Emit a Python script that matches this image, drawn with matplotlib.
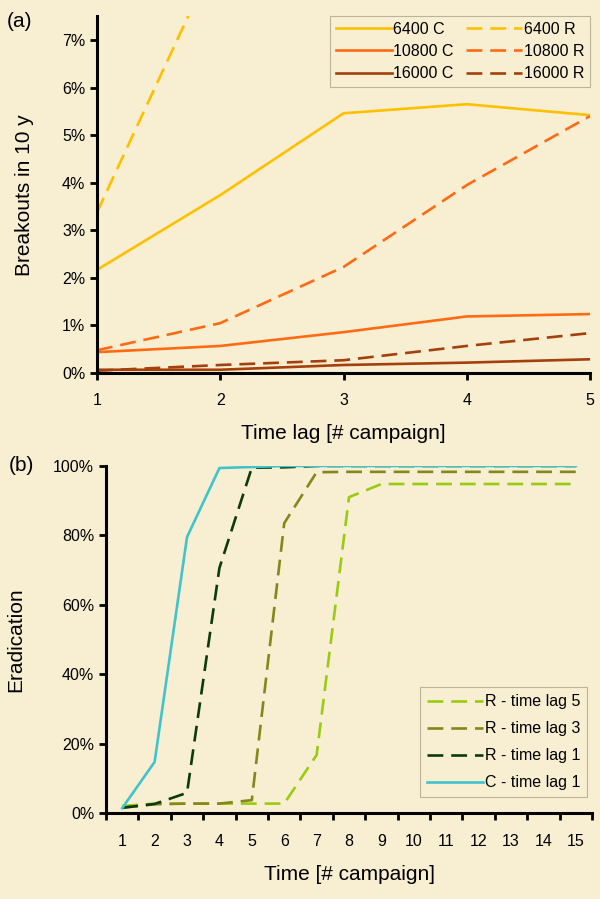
import matplotlib.pyplot as plt
import numpy as np
from matplotlib.ticker import FuncFormatter, FixedLocator

plt.rcParams.update({
    "font.family": ["Liberation Sans", "DejaVu Sans"],
    "font.size": 11.5,
})

bg = '#f8eed2'

# panel (a): breakouts in 10 y vs time lag
lag = [1, 2, 3, 4, 5]
c6400 = [2.17, 3.74, 5.46, 5.65, 5.42]
r6400 = [3.38, 8.95, 11.5, 12.5, 13.0]
c10800 = [0.44, 0.57, 0.86, 1.19, 1.24]
r10800 = [0.48, 1.05, 2.23, 3.95, 5.40]
c16000 = [0.07, 0.07, 0.17, 0.22, 0.29]
r16000 = [0.05, 0.17, 0.27, 0.57, 0.84]

# panel (b): eradication vs time
t = np.arange(1, 16)
r_lag5 = [2.0, 2.7, 2.7, 2.7, 2.7, 2.7, 16.7, 91.0, 94.8, 94.8, 94.8, 94.8, 94.8, 94.8, 94.8]
r_lag3 = [1.5, 2.5, 2.7, 2.7, 3.7, 83.5, 98.2, 98.3, 98.3, 98.3, 98.3, 98.3, 98.3, 98.3, 98.3]
r_lag1 = [1.5, 2.6, 5.8, 70.6, 99.5, 99.6, 100, 100, 100, 100, 100, 100, 100, 100, 100]
c_lag1 = [1.4, 14.7, 79.5, 99.4, 99.7, 100, 100, 100, 100, 100, 100, 100, 100, 100, 100]

col_6400 = '#ffc000'
col_10800 = '#ff6a13'
col_16000 = '#a3400c'

fig = plt.figure(figsize=(6, 8.99), dpi=100)
fig.patch.set_facecolor(bg)

lw = 1.9
dash = (6, 3)

def style(ax):
    ax.set_facecolor(bg)
    for s in ['top', 'right']:
        ax.spines[s].set_visible(False)
    for s in ['left', 'bottom']:
        ax.spines[s].set_linewidth(2.2)
    ax.tick_params(which='both', direction='out', width=2, length=5, labelsize=11.5)

# ---- (a)
ax1 = fig.add_axes([0.1617, 0.585, 0.8216, 0.397])
style(ax1)
ax1.plot(lag, c6400, color=col_6400, lw=lw, label='6400 C')
ax1.plot(lag, c10800, color=col_10800, lw=lw, label='10800 C')
ax1.plot(lag, c16000, color=col_16000, lw=lw, label='16000 C')
ax1.plot(lag, r6400, color=col_6400, lw=lw, dashes=dash, label='6400 R')
ax1.plot(lag, r10800, color=col_10800, lw=lw, dashes=dash, label='10800 R')
ax1.plot(lag, r16000, color=col_16000, lw=lw, dashes=dash, label='16000 R')
ax1.set_xlim(1, 5)
ax1.set_ylim(0, 7.5)
ax1.set_xticks(lag)
ax1.tick_params(axis='x', pad=9)
ax1.set_yticks(range(0, 8))
ax1.yaxis.set_major_formatter(FuncFormatter(lambda v, p: f'{v:.0f}%'))
ax1.set_ylabel('Breakouts in 10 y', fontsize=15, labelpad=20)
ax1.set_xlabel('Time lag [# campaign]', fontsize=15, labelpad=12)
leg1 = ax1.legend(ncol=2, loc='upper right', bbox_to_anchor=(1.0, 1.0),
                  borderaxespad=0,
                  frameon=True, fancybox=False, edgecolor='#bbb49a',
                  facecolor=bg, framealpha=1, fontsize=11.5,
                  handlelength=3.5, handletextpad=0.1, columnspacing=0.8,
                  labelspacing=0.45, borderpad=0.35)
leg1.get_frame().set_linewidth(0.8)
fig.text(0.012, 0.976, '(a)', fontsize=15, va='center')

# ---- (b)
ax2 = fig.add_axes([0.1767, 0.0957, 0.81, 0.386])
style(ax2)
ax2.plot(t, r_lag5, color='#99cc11', lw=lw, dashes=dash, label='R - time lag 5')
ax2.plot(t, r_lag3, color='#86861a', lw=lw, dashes=dash, label='R - time lag 3')
ax2.plot(t, r_lag1, color='#0d3a0d', lw=lw, dashes=dash, label='R - time lag 1')
ax2.plot(t, c_lag1, color='#40c4cc', lw=lw, label='C - time lag 1')
ax2.set_xlim(0.5, 15.5)
ax2.set_ylim(0, 100)
ax2.set_xticks(t)
ax2.xaxis.set_minor_locator(FixedLocator(np.arange(0.5, 16, 1)))
ax2.tick_params(axis='x', which='major', length=0, pad=15)
ax2.set_yticks(range(0, 101, 20))
ax2.yaxis.set_major_formatter(FuncFormatter(lambda v, p: f'{v:.0f}%'))
ax2.set_ylabel('Eradication', fontsize=15, labelpad=20)
ax2.set_xlabel('Time [# campaign]', fontsize=15, labelpad=12)
leg2 = ax2.legend(loc='lower right', bbox_to_anchor=(0.99, 0.045),
                  borderaxespad=0,
                  frameon=True, fancybox=False, edgecolor='#bbb49a',
                  facecolor=bg, framealpha=1, fontsize=11.5,
                  handlelength=3.5, handletextpad=0.1,
                  labelspacing=0.75, borderpad=0.45)
leg2.get_frame().set_linewidth(0.8)
fig.text(0.015, 0.482, '(b)', fontsize=15, va='center')

fig.savefig('out.png', dpi=100, facecolor=bg)
